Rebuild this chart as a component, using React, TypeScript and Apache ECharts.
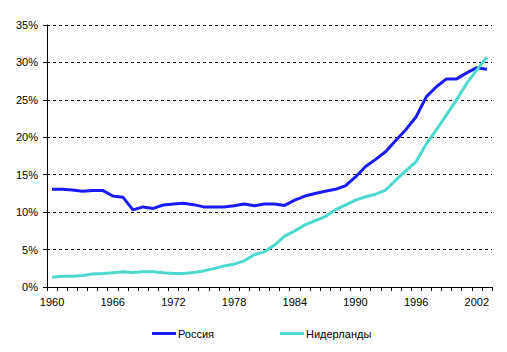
import React, { useEffect, useRef } from "react";
import * as echarts from "echarts";

const years: string[] = [];
for (let y = 1960; y <= 2003; y++) years.push(String(y));

const russia = [
  13.05, 13.05, 12.96, 12.8, 12.9, 12.9, 12.15, 12.0, 10.3, 10.7,
  10.5, 10.95, 11.1, 11.2, 11.0, 10.7, 10.7, 10.7, 10.85, 11.1,
  10.85, 11.1, 11.1, 10.9, 11.6, 12.15, 12.5, 12.8, 13.05, 13.5,
  14.7, 16.1, 17.05, 18.1, 19.6, 21.05, 22.75, 25.4, 26.75, 27.8,
  27.8, 28.6, 29.3, 29.1,
];

const netherlands = [
  1.3, 1.45, 1.45, 1.55, 1.75, 1.8, 1.9, 2.05, 1.95, 2.05,
  2.05, 1.9, 1.8, 1.8, 1.95, 2.15, 2.45, 2.8, 3.05, 3.5,
  4.3, 4.7, 5.6, 6.8, 7.5, 8.3, 8.85, 9.4, 10.3, 10.95,
  11.6, 12.05, 12.4, 12.95, 14.3, 15.55, 16.75, 19.1, 21.0, 23.0,
  25.0, 27.2, 29.0, 30.7,
];

const seriesNames = ["Россия", "Нидерланды"];
const colors = ["#1a1aff", "#4dd8d0"];

export default function App() {
  const ref = useRef<HTMLDivElement>(null);
  useEffect(() => {
    document.body.style.margin = "0";
    const chart = echarts.init(ref.current!, null, { renderer: "svg" });
    const font = "Liberation Sans, Arial, sans-serif";
    const legendText = { fontFamily: font, fontSize: 11, color: "#000", padding: [0, 0, 0, -3] };
    chart.setOption({
      animation: false,
      textStyle: { fontFamily: font },
      grid: { left: 47, right: 15, top: 25, bottom: 65, containLabel: false },
      legend: [
        {
          data: [seriesNames[0]],
          left: 152,
          top: 328,
          padding: 0,
          icon: "rect",
          itemWidth: 24,
          itemHeight: 3,
          textStyle: legendText,
        },
        {
          data: [seriesNames[1]],
          left: 280,
          top: 328,
          padding: 0,
          icon: "rect",
          itemWidth: 24,
          itemHeight: 3,
          textStyle: legendText,
        },
      ],
      xAxis: {
        type: "category",
        data: years,
        boundaryGap: true,
        axisLine: { lineStyle: { color: "#000", width: 1 } },
        axisTick: { show: true, interval: 0, length: 4, lineStyle: { color: "#000" } },
        axisLabel: { interval: 5, color: "#000", fontSize: 11, fontFamily: font, margin: 9 },
        splitLine: { show: false },
      },
      yAxis: {
        type: "value",
        min: 0,
        max: 35,
        interval: 5,
        axisLine: { show: true, lineStyle: { color: "#000", width: 1 } },
        axisTick: { show: true, length: 4, lineStyle: { color: "#000" } },
        axisLabel: { formatter: "{value}%", color: "#000", fontSize: 11, fontFamily: font, margin: 9 },
        splitLine: { show: true, lineStyle: { color: "#000", type: [3, 3], width: 1 } },
      },
      series: [
        {
          name: seriesNames[0],
          type: "line",
          data: russia,
          symbol: "none",
          lineStyle: { color: colors[0], width: 3 },
          itemStyle: { color: colors[0] },
        },
        {
          name: seriesNames[1],
          type: "line",
          data: netherlands,
          symbol: "none",
          lineStyle: { color: colors[1], width: 3 },
          itemStyle: { color: colors[1] },
        },
      ],
    });
    return () => chart.dispose();
  }, []);
  return <div ref={ref} style={{ width: 507, height: 352 }} />;
}
